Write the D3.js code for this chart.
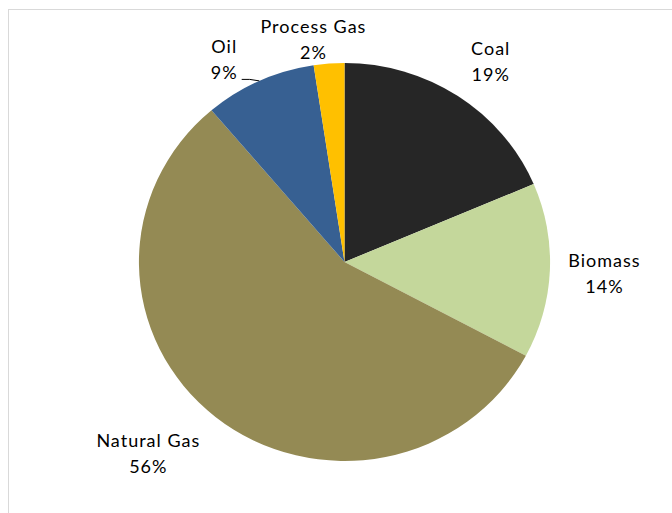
<!DOCTYPE html>
<html>
<head>
<meta charset="utf-8">
<script src="https://cdn.jsdelivr.net/npm/d3@7"></script>
<style>
  html, body { margin: 0; padding: 0; background: #fff; }
  svg text { font-family: Lato, "Open Sans", sans-serif; font-size: 18px; letter-spacing: 1px; fill: #000; }
</style>
</head>
<body>
<div id="chart"></div>
<script>
// Fuel shares (percent)
const categories = ["Coal", "Biomass", "Natural Gas", "Oil", "Process Gas"];
const shares = [18.6, 14.2, 56.0, 8.8, 2.4];
const colours = ["#262626", "#c4d79b", "#948a54", "#376092", "#ffc000"];

// Layout
const width = 672, height = 513;
const cx = 344.5, cy = 262, radius = 199, stretchX = 1.033;
const labelGap = 14, lineGap = 26;
// small per-label nudges so the labels sit where the original put them
const nudge = {
    "Coal": [14, -7],
    "Biomass": [4, 1.5],
    "Natural Gas": [-25.5, 11],
    "Oil": [-23.5, 9],
    "Process Gas": [-10.5, 9.5]
};
const leaderFor = ["Oil"];

const svg = d3.select("#chart")
    .append("svg")
    .attr("width", width)
    .attr("height", height);

// chart area frame (only the left and top edges are in view)
svg.append("rect")
    .attr("x", 8.5).attr("y", 9.5)
    .attr("width", 800).attr("height", 800)
    .attr("fill", "none")
    .attr("stroke", "#d9d9d9");

const total = d3.sum(shares);
const pie = d3.pie().sort(null).value(d => d.value);
const arcs = pie(categories.map((c, i) => ({ name: c, value: shares[i], colour: colours[i] })));

const arc = d3.arc().innerRadius(0).outerRadius(radius);

svg.append("g")
    .attr("transform", `translate(${cx},${cy}) scale(${stretchX},1)`)
    .selectAll("path")
    .data(arcs)
    .enter()
    .append("path")
    .attr("d", arc)
    .attr("fill", d => d.data.colour);

// point on the (stretched) pie at a given angle and radius
const onPie = (a, r) => [cx + r * Math.sin(a) * stretchX, cy - r * Math.cos(a)];

const labels = svg.append("g");

arcs.forEach(d => {
    const mid = (d.startAngle + d.endAngle) / 2;
    const g = labels.append("g");
    const t1 = g.append("text").attr("text-anchor", "middle").text(d.data.name);
    const t2 = g.append("text").attr("text-anchor", "middle")
        .text(Math.round(d.data.value / total * 100) + "%");
    const w = Math.max(t1.node().getComputedTextLength(), t2.node().getComputedTextLength());
    const h = 13 + lineGap;

    const [ax, ay] = onPie(mid, radius + labelGap);
    const n = nudge[d.data.name] || [0, 0];
    const lx = ax + Math.sin(mid) * w / 2 + n[0];
    const ly = ay - Math.cos(mid) * h / 2 + n[1];

    t1.attr("x", lx).attr("y", ly - 6.5);
    t2.attr("x", lx).attr("y", ly - 6.5 + lineGap);

    if (leaderFor.includes(d.data.name)) {
        const [ex, ey] = onPie(mid, radius);
        const sx = lx + t2.node().getComputedTextLength() / 2 + 4;
        const sy = ly - 6.5 + lineGap + 0.5;
        labels.append("path")
            .attr("d", d3.line()([[sx, sy], [sx + 8, sy], [ex, ey]]))
            .attr("fill", "none")
            .attr("stroke", "#000")
            .attr("stroke-width", 1);
    }
});
</script>
</body>
</html>
